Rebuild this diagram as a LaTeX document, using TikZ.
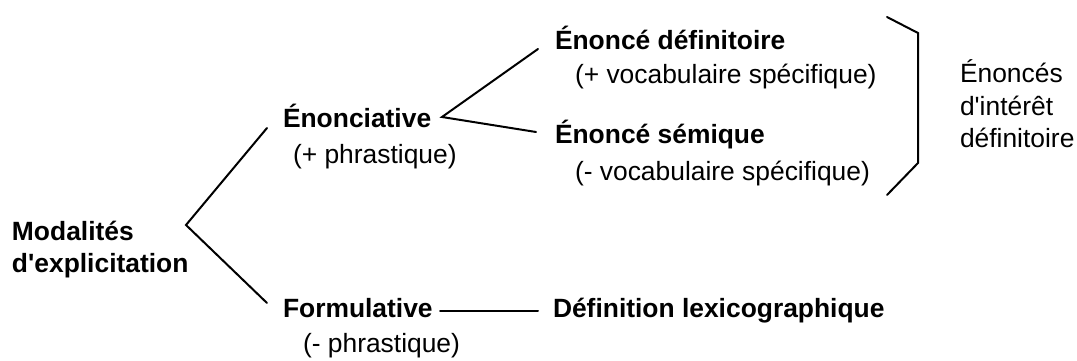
\documentclass[tikz,border=0pt]{standalone}
\usepackage{fontspec}
\setmainfont{Liberation Sans}
\begin{document}
\begin{tikzpicture}[x=1pt,y=-1pt,
  lbl/.style={anchor=base west,inner sep=0pt,outer sep=0pt,font=\fontsize{26.4}{31.7}\selectfont},
  head/.style={lbl,font=\fontsize{26.4}{31.7}\selectfont\bfseries},
  link/.style={line width=2pt,line cap=round,line join=miter}]
\useasboundingbox (0,0) rectangle (1077,361);

% root
\node[head] (mod1) at (12,240) {Modalités};
\node[head] (mod2) at (12,272) {d\textquotesingle explicitation};

% first level
\node[head] (enon)  at (283,128) {Énonciative};
\node[lbl]  (enonp) at (293,163) {(+ phrastique)};
\node[head] (form)  at (283,317) {Formulative};
\node[lbl]  (formp) at (303,352) {(- phrastique)};

% second level
\node[head] (def)  at (555,50)  {Énoncé définitoire};
\node[lbl]  (defp) at (575,84)  {(+ vocabulaire spécifique)};
\node[head] (sem)  at (555,143) {Énoncé sémique};
\node[lbl]  (semp) at (575,180) {(- vocabulaire spécifique)};
\node[head] (lex)  at (553,317) {Définition lexicographique};

% group label
\node[lbl] (grp1) at (960,83)  {Énoncés};
\node[lbl] (grp2) at (960,115) {d\textquotesingle intérêt};
\node[lbl] (grp3) at (960,147) {définitoire};

% branch points
\coordinate (apex)   at (186,225);
\coordinate (toEnon) at (267,128);
\coordinate (toForm) at (267,303);
\coordinate (fork)   at (442,117);
\coordinate (toDef)  at (538,49);
\coordinate (toSem)  at (536,132);
\coordinate (fromForm) at (440,311);
\coordinate (toLex)  at (538,311);

\draw[link] (toEnon) -- (apex) -- (toForm);
\draw[link] (toDef) -- (fork) -- (toSem);
\draw[link] (fromForm) -- (toLex);

% closing bracket around the two statements
\coordinate (b1) at (887,17);
\coordinate (b2) at (918,33);
\coordinate (b3) at (918,163);
\coordinate (b4) at (887,195);
\draw[link] (b1) -- (b2) -- (b3) -- (b4);
\end{tikzpicture}
\end{document}
